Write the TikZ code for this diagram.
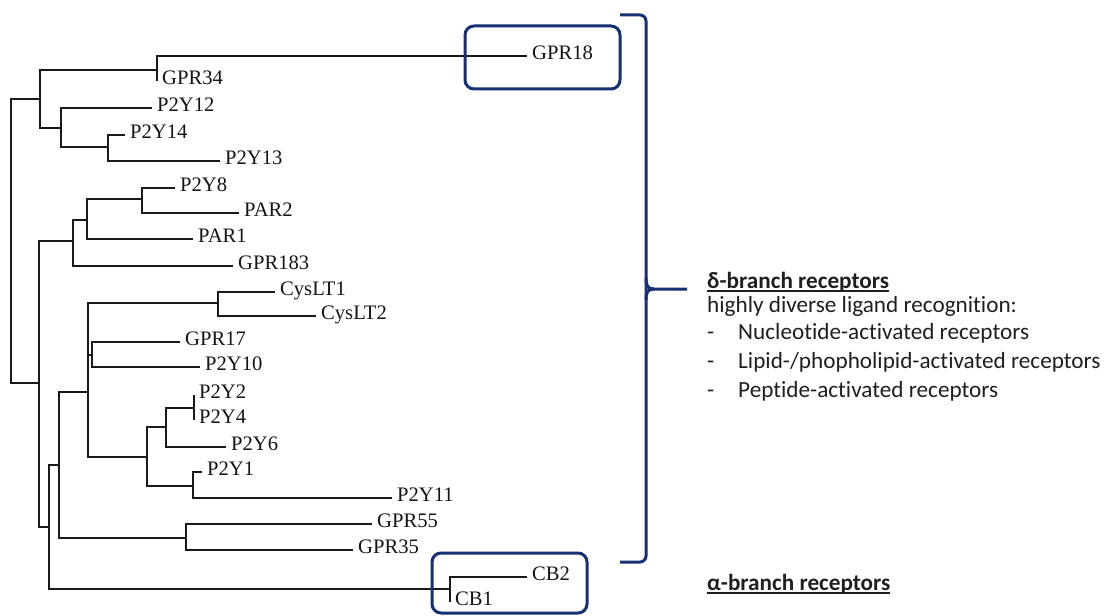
\documentclass[tikz,border=0pt]{standalone}
\usepackage{fontspec}
\setmainfont{Liberation Serif}
\newfontfamily\calib[Ligatures=NoCommon]{Carlito}
\definecolor{navy}{RGB}{22,48,115}
\newcommand\ulbox[1]{\sbox0{#1}\rlap{\rule[-3.6pt]{\wd0}{1.7pt}}\usebox0}
\begin{document}
\begin{tikzpicture}[x=1pt,y=-1pt,
  leaf/.style={anchor=west,inner xsep=5pt,inner ysep=0pt,text height=0.66em,text depth=0pt,font=\fontsize{20.6}{24}\selectfont,text=black!92},
  br/.style={line width=2.7pt,draw=black!90},
  bluebox/.style={draw=navy,line width=3pt,rounded corners=9pt},
  bluebr/.style={draw=navy,line width=3pt},
  note/.style={anchor=base west,inner sep=0pt,font=\calib\fontsize{23.2}{27}\selectfont,text=black!88}
]
\useasboundingbox (0,0) rectangle (1107,615);

% internal nodes
\coordinate (r0) at (11,240);
\coordinate (nA) at (40,99);
\coordinate (nG18) at (157,70);
\coordinate (nP) at (61,128);
\coordinate (n14) at (108,147);
\coordinate (nB) at (39,383);
\coordinate (nC) at (73,241);
\coordinate (nC1) at (87,220);
\coordinate (nC2) at (142,199);
\coordinate (nD) at (49,527);
\coordinate (nE) at (59,465);
\coordinate (nG55) at (186,538);
\coordinate (nCB) at (450,589);
\coordinate (nF) at (88,392);
\coordinate (nCys) at (218,303);
\coordinate (nG17) at (92,355);
\coordinate (nH) at (147,457);
\coordinate (nI) at (166,427);
\coordinate (nK) at (194,408);
\coordinate (nJ) at (193,486);

% leaves
\node[leaf] (GPR18) at (527,56) {GPR18};
\node[leaf] (GPR34) at (157,81) {GPR34};
\node[leaf] (P2Y12) at (152,108) {P2Y12};
\node[leaf] (P2Y14) at (125,135) {P2Y14};
\node[leaf] (P2Y13) at (220,161) {P2Y13};
\node[leaf] (P2Y8) at (175,188) {P2Y8};
\node[leaf] (PAR2) at (239,213) {PAR2};
\node[leaf] (PAR1) at (193,239) {PAR1};
\node[leaf] (GPR183) at (233,266) {GPR183};
\node[leaf] (CysLT1) at (275,292) {CysLT1};
\node[leaf] (CysLT2) at (316,316) {CysLT2};
\node[leaf] (GPR17) at (180,342) {GPR17};
\node[leaf] (P2Y10) at (200,367) {P2Y10};
\node[leaf] (P2Y2) at (194,395) {P2Y2};
\node[leaf] (P2Y4) at (194,420) {P2Y4};
\node[leaf] (P2Y6) at (226,447) {P2Y6};
\node[leaf] (P2Y1) at (202,472) {P2Y1};
\node[leaf] (P2Y11) at (392,498) {P2Y11};
\node[leaf] (GPR55) at (372,524) {GPR55};
\node[leaf] (GPR35) at (353,550) {GPR35};
\node[leaf] (CB2) at (527,577) {CB2};
\node[leaf] (CB1) at (450,602) {CB1};

% branches
\draw[br] (r0) |- (nA);
\draw[br] (r0) |- (nB);
\draw[br] (nA) |- (nG18);
\draw[br] (nA) |- (nP);
\draw[br] (nG18) |- (GPR18.west);
\draw[br] (nG18) |- (GPR34.west);
\draw[br] (nP) |- (P2Y12.west);
\draw[br] (nP) |- (n14);
\draw[br] (n14) |- (P2Y14.west);
\draw[br] (n14) |- (P2Y13.west);
\draw[br] (nB) |- (nC);
\draw[br] (nB) |- (nD);
\draw[br] (nC) |- (nC1);
\draw[br] (nC) |- (GPR183.west);
\draw[br] (nC1) |- (nC2);
\draw[br] (nC1) |- (PAR1.west);
\draw[br] (nC2) |- (P2Y8.west);
\draw[br] (nC2) |- (PAR2.west);
\draw[br] (nD) |- (nE);
\draw[br] (nD) |- (nCB);
\draw[br] (nCB) |- (CB2.west);
\draw[br] (nCB) |- (CB1.west);
\draw[br] (nE) |- (nF);
\draw[br] (nE) |- (nG55);
\draw[br] (nG55) |- (GPR55.west);
\draw[br] (nG55) |- (GPR35.west);
\draw[br] (nF) |- (nCys);
\draw[br] (nF) |- (nH);
\draw[br] (nF) |- (nG17);
\draw[br] (nCys) |- (CysLT1.west);
\draw[br] (nCys) |- (CysLT2.west);
\draw[br] (nG17) |- (GPR17.west);
\draw[br] (nG17) |- (P2Y10.west);
\draw[br] (nH) |- (nI);
\draw[br] (nH) |- (nJ);
\draw[br] (nI) |- (nK);
\draw[br] (nI) |- (P2Y6.west);
\draw[br] (nK) |- (P2Y2.west);
\draw[br] (nK) |- (P2Y4.west);
\draw[br] (nJ) |- (P2Y1.west);
\draw[br] (nJ) |- (P2Y11.west);

% blue boxes
\draw[bluebox] (465,26) rectangle (620,89);
\draw[bluebox] (432,553) rectangle (587,613);

% bracket
\draw[bluebr,rounded corners=6pt] (620,15) -- (646,15) -- (646,562) -- (620,562);
\draw[bluebr] (646,278) .. controls (646,286) and (648,289) .. (654,289) -- (687,289);
\draw[bluebr] (646,300) .. controls (646,292) and (648,289) .. (654,289);

% notes
\node[note] (dtitle) at (707,288) {\bfseries\ulbox{δ-branch receptors}};
\node[note] (dsub) at (707,312) {highly diverse ligand recognition:};
\node[note] (d1) at (707,339) {\makebox[31pt][l]{-}Nucleotide-activated receptors};
\node[note] (d2) at (707,368) {\makebox[31pt][l]{-}Lipid-/phopholipid-activated receptors};
\node[note] (d3) at (707,397) {\makebox[31pt][l]{-}Peptide-activated receptors};
\node[note] (atitle) at (707,590) {\bfseries\ulbox{α-branch receptors}};
\end{tikzpicture}
\end{document}
